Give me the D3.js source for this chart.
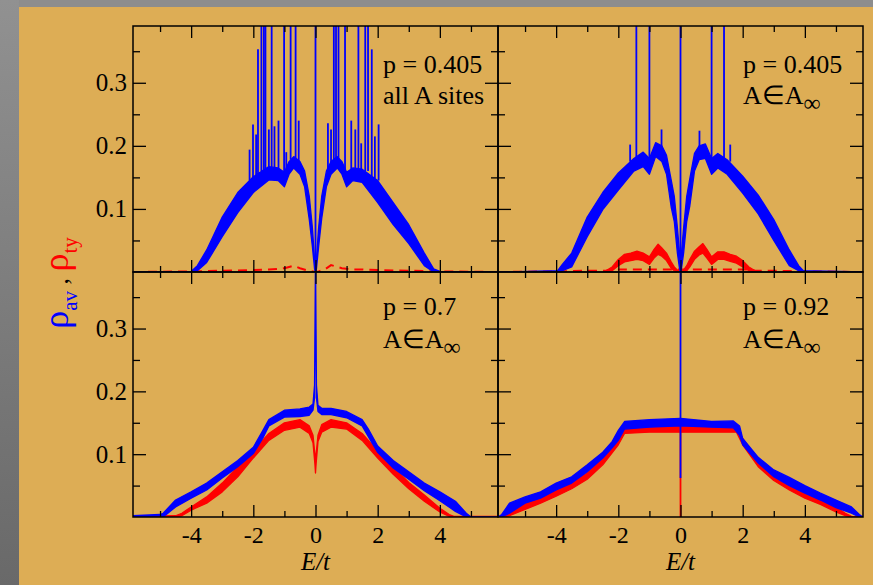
<!DOCTYPE html>
<html>
<head>
<meta charset="utf-8">
<script src="https://cdn.jsdelivr.net/npm/d3@7"></script>
<style>
  body { margin: 0; background: #ddad55; }
  svg { display: block; }
</style>
</head>
<body>
<svg id="chart" width="873" height="585"></svg>
<script>
const W = 873, H = 585;
const FONT = "Liberation Serif";

const xDomain = [-5.87, 5.87];
const yDomain = [0, 0.39];
const xMajor = [-4, -2, 0, 2, 4];
const xMinor = [-5, -3, -1, 1, 3, 5];
const yMajor = [0.1, 0.2, 0.3];
const yMinor = [0.05, 0.15, 0.25, 0.35];

// top left : p = 0.405, all A sites
const tlE      = [-5.87, -4.0, -3.8, -3.5, -3.0, -2.5, -2.0, -1.5, -1.2, -1.0, -0.85, -0.7, -0.5, -0.35, -0.2, -0.1, -0.03, 0, 0.03, 0.1, 0.2, 0.35, 0.5, 0.7, 0.85, 1.0, 1.2, 1.5, 2.0, 2.5, 3.0, 3.5, 3.8, 4.0, 5.87];
const tlBlueLo = [0, 0, 0.002, 0.015, 0.056, 0.094, 0.126, 0.146, 0.145, 0.135, 0.155, 0.165, 0.155, 0.135, 0.083, 0.04, 0.005, 0, 0.005, 0.04, 0.085, 0.135, 0.155, 0.165, 0.155, 0.135, 0.145, 0.142, 0.11, 0.075, 0.045, 0.01, 0, 0, 0];
const tlBlueHi = [0, 0.001, 0.01, 0.035, 0.087, 0.126, 0.151, 0.167, 0.165, 0.158, 0.175, 0.183, 0.175, 0.16, 0.12, 0.07, 0.02, 0, 0.02, 0.07, 0.12, 0.16, 0.175, 0.183, 0.175, 0.158, 0.165, 0.163, 0.145, 0.11, 0.075, 0.03, 0.005, 0.001, 0];
const tlRedE   = [-5.87, -4.0, -3.0, -2.0, -1.5, -1.2, -1.0, -0.85, -0.7, -0.5, -0.3, -0.1, 0, 0.1, 0.3, 0.5, 0.7, 0.85, 1.0, 1.2, 1.5, 2.0, 3.0, 4.0, 5.87];
const tlRed    = [0.0, 0.001, 0.002, 0.003, 0.004, 0.005, 0.006, 0.008, 0.01, 0.006, 0.003, 0.001, 0, 0.001, 0.004, 0.011, 0.008, 0.006, 0.005, 0.004, 0.004, 0.003, 0.002, 0.001, 0.0];
const tlSpikeE    = [-1.74, -1.66, -1.61, -1.41, -1.01, -0.80, -0.64, 0, 0.59, 0.66, 0.74, 0.95, 1.38, 1.60, 1.69,
                     -2.12, -2.01, -1.91, -1.85, -1.50, -1.32, -1.19, -0.94, -0.54, 0.40, 0.50, 1.15, 1.28, 1.47, 1.81, 1.91, 2.03];
const tlSpikeBase = [0.16, 0.16, 0.16, 0.165, 0.155, 0.178, 0.18, 0, 0.178, 0.18, 0.178, 0.16, 0.16, 0.16, 0.16,
                     0.145, 0.15, 0.152, 0.155, 0.165, 0.165, 0.163, 0.16, 0.17, 0.165, 0.172, 0.162, 0.163, 0.16, 0.152, 0.148, 0.145];
const tlSpikeTop  = [0.42, 0.42, 0.42, 0.42, 0.42, 0.42, 0.42, 0.42, 0.42, 0.42, 0.42, 0.42, 0.42, 0.42, 0.42,
                     0.194, 0.234, 0.218, 0.353, 0.226, 0.231, 0.24, 0.19, 0.24, 0.236, 0.226, 0.24, 0.226, 0.204, 0.353, 0.215, 0.234];

// top right : p = 0.405, A in A_inf
const trE      = [-5.87, -3.95, -3.8, -3.5, -3.0, -2.5, -2.0, -1.5, -1.2, -1.0, -0.8, -0.6, -0.45, -0.3, -0.2, -0.1, -0.03, 0, 0.03, 0.1, 0.2, 0.3, 0.45, 0.6, 0.8, 1.0, 1.2, 1.5, 2.0, 2.5, 3.0, 3.5, 3.8, 3.95, 5.87];
const trBlueLo = [0, 0, 0.002, 0.008, 0.056, 0.099, 0.13, 0.16, 0.167, 0.155, 0.183, 0.175, 0.155, 0.103, 0.08, 0.03, 0.005, 0, 0.005, 0.03, 0.08, 0.105, 0.16, 0.178, 0.18, 0.155, 0.165, 0.155, 0.125, 0.092, 0.05, 0.01, 0.002, 0, 0];
const trBlueHi = [0, 0.002, 0.012, 0.03, 0.087, 0.126, 0.157, 0.18, 0.19, 0.18, 0.205, 0.2, 0.185, 0.146, 0.12, 0.07, 0.03, 0, 0.03, 0.07, 0.12, 0.148, 0.188, 0.2, 0.203, 0.18, 0.188, 0.178, 0.152, 0.122, 0.083, 0.035, 0.01, 0.002, 0];
const trRedE   = [-2.4, -2.2, -2.0, -1.8, -1.6, -1.4, -1.2, -1.0, -0.85, -0.72, -0.6, -0.45, -0.3, -0.2, -0.1, 0, 0.1, 0.2, 0.3, 0.45, 0.6, 0.72, 0.85, 1.0, 1.2, 1.4, 1.6, 1.8, 2.0, 2.2, 2.4];
const trRedLo  = [0, 0.002, 0.01, 0.016, 0.018, 0.02, 0.018, 0.012, 0.022, 0.028, 0.025, 0.018, 0.006, 0.002, 0, 0, 0, 0.002, 0.008, 0.02, 0.027, 0.03, 0.022, 0.012, 0.02, 0.02, 0.017, 0.014, 0.008, 0.002, 0];
const trRedHi  = [0.002, 0.008, 0.02, 0.028, 0.03, 0.033, 0.03, 0.024, 0.036, 0.044, 0.038, 0.03, 0.016, 0.008, 0.003, 0, 0.003, 0.01, 0.02, 0.033, 0.04, 0.045, 0.036, 0.024, 0.032, 0.032, 0.028, 0.025, 0.018, 0.008, 0.002];
const trRedDashE = [-5.87, -4.0, -3.0, -2.4, -2.2, 2.2, 2.4, 3.0, 4.0, 5.87];
const trRedDash  = [0.0, 0.001, 0.002, 0.002, 0.004, 0.004, 0.002, 0.002, 0.001, 0.0];
const trSpikeE    = [-1.42, -1.0, 0, 1.0, 1.40, -1.62, -0.61, 0.61, 1.60];
const trSpikeBase = [0.175, 0.175, 0, 0.175, 0.175, 0.175, 0.198, 0.198, 0.175];
const trSpikeTop  = [0.42, 0.42, 0.42, 0.42, 0.42, 0.202, 0.226, 0.224, 0.202];

// bottom left : p = 0.7
const blE      = [-5.87, -5.0, -4.9, -4.5, -4.0, -3.5, -3.0, -2.5, -2.0, -1.7, -1.5, -1.0, -0.5, -0.2, -0.08, -0.03, 0, 0.03, 0.08, 0.2, 0.5, 1.0, 1.5, 1.7, 2.0, 2.5, 3.0, 3.5, 4.0, 4.5, 4.85, 5.0, 5.87];
const blBlueLo = [0, 0.002, 0, 0.016, 0.03, 0.043, 0.062, 0.08, 0.101, 0.125, 0.145, 0.159, 0.16, 0.162, 0.17, 0.19, 0.39, 0.19, 0.168, 0.163, 0.163, 0.158, 0.145, 0.128, 0.103, 0.078, 0.06, 0.042, 0.026, 0.009, 0, 0, 0];
const blBlueHi = [0.002, 0.004, 0.006, 0.027, 0.04, 0.054, 0.072, 0.09, 0.111, 0.137, 0.155, 0.17, 0.172, 0.175, 0.18, 0.21, 0.42, 0.21, 0.178, 0.173, 0.173, 0.168, 0.155, 0.14, 0.113, 0.09, 0.072, 0.054, 0.04, 0.025, 0.006, 0, 0];
const blRedE   = [-5.87, -4.5, -4.3, -4.0, -3.5, -3.0, -2.5, -2.0, -1.5, -1.0, -0.5, -0.2, -0.08, -0.02, 0, 0.02, 0.08, 0.2, 0.5, 1.0, 1.5, 2.0, 2.5, 3.0, 3.5, 4.0, 4.3, 4.45, 5.87];
const blRedLo  = [0, 0, 0.002, 0.011, 0.022, 0.04, 0.064, 0.094, 0.122, 0.138, 0.143, 0.133, 0.118, 0.085, 0.07, 0.085, 0.12, 0.135, 0.143, 0.14, 0.122, 0.094, 0.068, 0.045, 0.025, 0.008, 0.001, 0, 0];
const blRedHi  = [0.001, 0.002, 0.006, 0.016, 0.032, 0.054, 0.08, 0.106, 0.133, 0.15, 0.155, 0.145, 0.13, 0.1, 0.075, 0.1, 0.13, 0.147, 0.155, 0.15, 0.133, 0.105, 0.08, 0.055, 0.035, 0.014, 0.004, 0.001, 0.001];

// bottom right : p = 0.92
const brE      = [-5.87, -5.75, -5.5, -5.0, -4.5, -4.0, -3.5, -3.0, -2.5, -2.2, -2.0, -1.8, -1.0, 0, 1.0, 1.7, 1.9, 2.0, 2.5, 3.0, 3.5, 4.0, 4.5, 5.0, 5.5, 5.75, 5.87];
const brBlueLo = [0, 0, 0.006, 0.022, 0.03, 0.043, 0.054, 0.072, 0.094, 0.11, 0.122, 0.14, 0.143, 0.145, 0.143, 0.142, 0.13, 0.115, 0.086, 0.064, 0.05, 0.038, 0.027, 0.015, 0.006, 0, 0];
const brBlueHi = [0, 0.004, 0.022, 0.032, 0.04, 0.054, 0.064, 0.083, 0.103, 0.12, 0.138, 0.152, 0.155, 0.157, 0.152, 0.153, 0.145, 0.125, 0.095, 0.075, 0.063, 0.05, 0.038, 0.027, 0.016, 0.004, 0];
const brRedE   = [-5.87, -5.7, -5.5, -5.0, -4.5, -4.0, -3.5, -3.0, -2.5, -2.0, -1.8, -1.0, 0, 1.0, 1.8, 2.0, 2.5, 3.0, 3.5, 4.0, 4.5, 5.0, 5.3, 5.5, 5.87];
const brRedLo  = [0, 0, 0.002, 0.012, 0.022, 0.033, 0.045, 0.06, 0.083, 0.115, 0.133, 0.135, 0.135, 0.135, 0.135, 0.115, 0.08, 0.058, 0.043, 0.03, 0.02, 0.008, 0.002, 0, 0];
const brRedHi  = [0, 0.002, 0.01, 0.022, 0.03, 0.042, 0.055, 0.07, 0.093, 0.128, 0.142, 0.145, 0.145, 0.145, 0.145, 0.125, 0.09, 0.068, 0.052, 0.04, 0.028, 0.016, 0.006, 0.001, 0];
const brSpikeE = [0], brSpikeBase = [0.062], brSpikeTop = [0.42];
const brRedSpikeE = [0], brRedSpikeBase = [0], brRedSpikeTop = [0.14];

const panels = [
  { x0: 133, y0: 26, w: 365, h: 246, left: true, bottom: false, label: ["p = 0.405", "all A sites"], lx: 383, ly: 73,
    blue: [tlE, tlBlueLo, tlBlueHi], redDash: [tlRedE, tlRed], spikes: [tlSpikeE, tlSpikeBase, tlSpikeTop] },
  { x0: 498, y0: 26, w: 365, h: 246, left: false, bottom: false, label: ["p = 0.405", "inf"], lx: 743, ly: 73,
    blue: [trE, trBlueLo, trBlueHi], red: [trRedE, trRedLo, trRedHi], redDash: [trRedDashE, trRedDash], spikes: [trSpikeE, trSpikeBase, trSpikeTop] },
  { x0: 133, y0: 272, w: 365, h: 245, left: true, bottom: true, label: ["p = 0.7", "inf"], lx: 383, ly: 315,
    blue: [blE, blBlueLo, blBlueHi], red: [blRedE, blRedLo, blRedHi] },
  { x0: 498, y0: 272, w: 365, h: 245, left: false, bottom: true, label: ["p = 0.92", "inf"], lx: 743, ly: 315,
    blue: [brE, brBlueLo, brBlueHi], red: [brRedE, brRedLo, brRedHi], spikes: [brSpikeE, brSpikeBase, brSpikeTop],
    redSpikes: [brRedSpikeE, brRedSpikeBase, brRedSpikeTop] }
];

const svg = d3.select("#chart");
const defs = svg.append("defs");
const grad = defs.append("linearGradient").attr("id", "edge").attr("x1", 0).attr("y1", 0).attr("x2", 0).attr("y2", 1);
grad.append("stop").attr("offset", "0%").attr("stop-color", "#919191");
grad.append("stop").attr("offset", "100%").attr("stop-color", "#696969");

svg.append("rect").attr("width", W).attr("height", H).attr("fill", "#ddad55");
svg.append("rect").attr("width", W).attr("height", 7).attr("fill", "#8d8d8d");
svg.append("rect").attr("width", 19).attr("height", H).attr("fill", "url(#edge)");

panels.forEach((p, i) => {
  const x = d3.scaleLinear().domain(xDomain).range([p.x0, p.x0 + p.w]);
  const y = d3.scaleLinear().domain(yDomain).range([p.y0 + p.h, p.y0]);

  defs.append("clipPath").attr("id", "clip" + i)
    .append("rect").attr("x", p.x0).attr("y", p.y0).attr("width", p.w).attr("height", p.h);
  const g = svg.append("g").attr("clip-path", "url(#clip" + i + ")");

  const band = (arr, color) => {
    const [E, lo, hi] = arr;
    const area = d3.area().x(d => x(E[d])).y0(d => y(lo[d])).y1(d => y(hi[d]));
    g.append("path").datum(d3.range(E.length)).attr("d", area)
      .attr("fill", color).attr("stroke", color).attr("stroke-width", 1.3).attr("stroke-linejoin", "round");
  };
  const spikes = (arr, color) => {
    const [E, base, top] = arr;
    g.selectAll(null).data(d3.range(E.length)).enter().append("line")
      .attr("x1", d => x(E[d])).attr("x2", d => x(E[d]))
      .attr("y1", d => y(base[d])).attr("y2", d => y(top[d]))
      .attr("stroke", color).attr("stroke-width", 1.8);
  };

  if (p.redDash) {
    const [E, v] = p.redDash;
    const line = d3.line().x(d => x(E[d])).y(d => y(v[d]));
    g.append("path").datum(d3.range(E.length)).attr("d", line)
      .attr("fill", "none").attr("stroke", "#ff0000").attr("stroke-width", 2).attr("stroke-dasharray", "9,6");
  }
  if (p.red) band(p.red, "#ff0000");
  if (p.redSpikes) spikes(p.redSpikes, "#ff0000");
  band(p.blue, "#0000ff");
  if (p.spikes) spikes(p.spikes, "#0000ff");

  // axes, ticks pointing inward on all four sides
  const ax = svg.append("g");
  const mk = (axis, tr) => {
    const a = ax.append("g").attr("transform", tr).call(axis);
    a.select(".domain").remove();
    a.selectAll("line").attr("stroke", "#000").attr("stroke-width", 1.3);
    a.attr("font-family", FONT);
    return a;
  };
  const bot = mk(d3.axisBottom(x).tickValues(xMajor).tickSize(-12).tickPadding(9)
    .tickFormat(p.bottom ? (d => d3.format("d")(d).replace("−", "-")) : ""), `translate(0,${p.y0 + p.h})`);
  bot.attr("font-size", 24);
  mk(d3.axisBottom(x).tickValues(xMinor).tickSize(-6).tickFormat(""), `translate(0,${p.y0 + p.h})`);
  mk(d3.axisTop(x).tickValues(xMajor).tickSize(-12).tickFormat(""), `translate(0,${p.y0})`);
  mk(d3.axisTop(x).tickValues(xMinor).tickSize(-6).tickFormat(""), `translate(0,${p.y0})`);
  const lft = mk(d3.axisLeft(y).tickValues(yMajor).tickSize(-13).tickPadding(6)
    .tickFormat(p.left ? d3.format(".1f") : ""), `translate(${p.x0},0)`);
  lft.attr("font-size", 25);
  mk(d3.axisLeft(y).tickValues(yMinor).tickSize(-7).tickFormat(""), `translate(${p.x0},0)`);
  mk(d3.axisRight(y).tickValues(yMajor).tickSize(-13).tickFormat(""), `translate(${p.x0 + p.w},0)`);
  mk(d3.axisRight(y).tickValues(yMinor).tickSize(-7).tickFormat(""), `translate(${p.x0 + p.w},0)`);
  ax.selectAll(".tick text").attr("fill", "#000");

  ax.append("rect").attr("x", p.x0).attr("y", p.y0).attr("width", p.w).attr("height", p.h)
    .attr("fill", "none").attr("stroke", "#000").attr("stroke-width", 1.5);

  // panel annotation
  ax.append("text").attr("x", p.lx).attr("y", p.ly).attr("font-family", FONT).attr("font-size", 26).text(p.label[0]);
  const t2 = ax.append("text").attr("x", p.lx).attr("y", p.ly + (p.bottom ? 33 : 31))
    .attr("font-family", FONT).attr("font-size", 26);
  if (p.label[1] === "inf") {
    t2.append("tspan").text("A\u2208A");
    t2.append("tspan").attr("dy", 7).attr("font-size", 24).text("\u221E");
  } else {
    t2.text(p.label[1]);
  }

  if (p.bottom) {
    svg.append("text").attr("x", x(0)).attr("y", 570).attr("text-anchor", "middle")
      .attr("font-family", FONT).attr("font-size", 25).attr("font-style", "italic").text("E/t");
  }
});

// y axis title
const yt = svg.append("text").attr("transform", "translate(68,283) rotate(-90)")
  .attr("text-anchor", "middle").attr("font-family", FONT);
yt.append("tspan").attr("fill", "#0000ff").attr("font-size", 36).text("\u03C1");
yt.append("tspan").attr("fill", "#0000ff").attr("dy", 9).attr("font-size", 21).text("av");
yt.append("tspan").attr("fill", "#000").attr("dy", -9).attr("font-size", 26).text(" , ");
yt.append("tspan").attr("fill", "#ff0000").attr("font-size", 36).text("\u03C1");
yt.append("tspan").attr("fill", "#ff0000").attr("dy", 9).attr("font-size", 21).text("ty");
</script>
</body>
</html>
